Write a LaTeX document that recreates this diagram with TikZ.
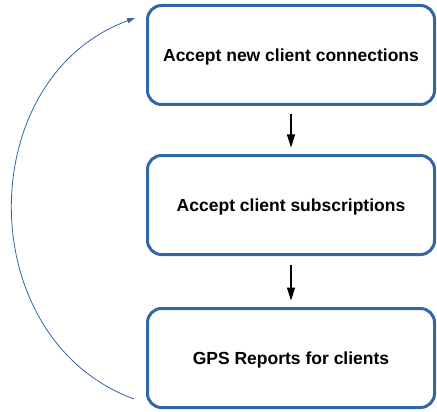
\documentclass[tikz,border=0pt]{standalone}
\usepackage{fontspec}
\setmainfont{Liberation Sans}
\usetikzlibrary{arrows.meta}
\definecolor{boxblue}{RGB}{52,101,164}
\tikzset{every node/.style={font=\bfseries\fontsize{17.5}{20}\selectfont},
stage/.style={draw=boxblue,line width=3pt,rounded corners=14pt,minimum width=287pt,minimum height=99pt,inner sep=0pt,text depth=0pt},
flow/.style={-{Triangle[length=13pt,width=8pt]},line width=1.2pt,black},
loopback/.style={-{Triangle[length=8pt,width=5pt]},line width=0.8pt,boxblue}}

\begin{document}
\begin{tikzpicture}[x=1pt,y=-1pt]
    \useasboundingbox (0,0) rectangle (437,412);
    % the three stages
    \node[stage] (accept) at (291,55) {Accept new client connections};
    \node[stage] (subscribe) at (291,205) {Accept client subscriptions};
    \node[stage] (gps) at (291,358) {GPS Reports for clients};
    % arrows down
    \draw[flow,shorten <=8.5pt,shorten >=6.5pt] (accept) -- (subscribe);
    \draw[flow,shorten <=8.5pt,shorten >=6.5pt] (subscribe) -- (gps);
    % back to the top
    \coordinate (loopfrom) at ([xshift=-12pt,yshift=10pt]gps.south west);
    \coordinate (loopto) at ([xshift=-11pt,yshift=-14pt]accept.north west);
    \draw[loopback] (loopfrom) .. controls +(-163,-60) and +(-163,60) .. (loopto);
  \end{tikzpicture}
\end{document}
